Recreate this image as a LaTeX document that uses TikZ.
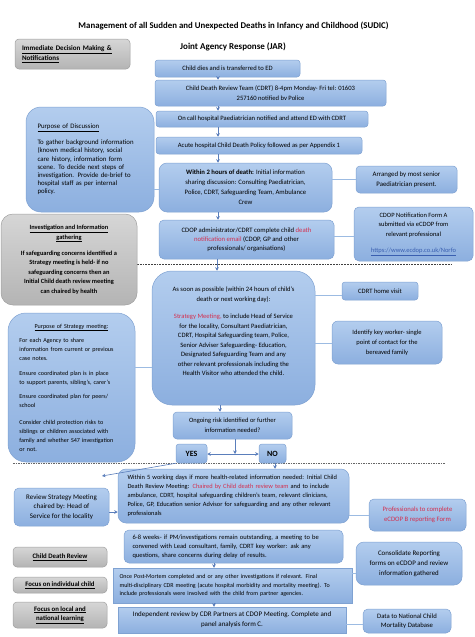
\documentclass[tikz,border=0pt]{standalone}
\usepackage{fontspec}
\setmainfont{Carlito}
\usetikzlibrary{arrows.meta,calc}
\definecolor{btop}{HTML}{B3CDEE}
\definecolor{bbot}{HTML}{8CAFDF}
\definecolor{bdr}{HTML}{7FA2D2}
\definecolor{gtop}{HTML}{D6D6D6}
\definecolor{gbot}{HTML}{B4B4B4}
\definecolor{gdr}{HTML}{A0A0A0}
\definecolor{lnk}{HTML}{9CBBE2}
\definecolor{arrc}{HTML}{5A7EBB}
\definecolor{redt}{HTML}{D42F4E}
\definecolor{urlc}{HTML}{3A5FB0}
\newcommand{\fz}[2]{\fontsize{#1}{#2}\selectfont}
\begin{document}
\begin{tikzpicture}[x=1pt,y=-1pt,
 bluebox/.style={draw=bdr, line width=0.5pt, top color=btop, bottom color=bbot, rounded corners=3pt, inner sep=0pt, align=center, text=black},
 graybox/.style={draw=gdr, line width=0.5pt, top color=gtop, bottom color=gbot, rounded corners=4pt, inner sep=0pt, align=center},
 sz/.style 2 args={minimum width=#1pt, minimum height=#2pt},
 conn/.style={draw=lnk, line width=1pt},
 arr/.style={draw=arrc, line width=0.6pt, -{Stealth[length=3.5pt,width=3.5pt]}},
 dashA/.style={draw=black!75, line width=0.5pt, dash pattern=on 1.8pt off 1pt},
 dashB/.style={draw=black!60, line width=0.5pt, dash pattern=on 1.5pt off 1pt},
]
\fill[white] (0,0) rectangle (474,637);
\useasboundingbox (0,0) rectangle (474,637);

% dashed separators
\coordinate (dA1) at (137,264);
\coordinate (dA2) at (451,264);
\coordinate (dB1) at (13,463);
\coordinate (dB2) at (445,463);
\draw[dashA] (dA1) -- (dA2);
\draw[dashB] (dB1) -- (dB2);

% titles
\node[font=\bfseries\fz{8.8}{11}] (title) at (233.5,26) {Management of all Sudden and Unexpected Deaths in Infancy and Childhood (SUDIC)};
\node[font=\bfseries\fz{9}{11}] (jar) at (233,47) {Joint Agency Response (JAR)};

% left grey headers
\node[graybox, sz={115}{30}, text width=101pt, align=left, font=\bfseries\fz{7}{10}] (imm) at (72.5,54) {\underline{Immediate Decision Making \&}\\\underline{Notifications}};

% main column
\node[bluebox, sz={145}{17}, font=\fz{6.6}{9}] (n2) at (227.5,68.5) {Child dies and is transferred to ED};
\node[bluebox, sz={231}{26}, font=\fz{6.6}{9.5}] (n3) at (270.5,93) {Child Death Review Team (CDRT) 8-4pm Monday- Fri tel: 01603\\257160 notified bv Police};
\node[bluebox, sz={212}{16}, font=\fz{6.6}{9}] (n4) at (262,119) {On call hospital Paediatrician notified and attend ED with CDRT};
\node[bluebox, sz={206}{17}, font=\fz{6.6}{9}] (n5) at (259,145.5) {Acute hospital Child Death Policy followed as per Appendix 1};
\node[bluebox, sz={173}{49}, rounded corners=8pt, font=\fz{6.7}{10}] (n6) at (245.5,187.5) {\textbf{Within 2 hours of death:} Initial information\\sharing discussion: Consulting Paediatrician,\\Police, CDRT, Safeguarding Team, Ambulance\\Crew};
\node[bluebox, sz={128}{105}, rounded corners=15pt, text width=105pt, align=left, font=\fz{6.8}{8.2}] (n7) at (90,159.5) {\underline{Purpose of Discussion}\\[8pt]To gather background information\\(known medical history, social\\care history, information form\\scene. To decide next steps of\\investigation. Provide de-brief to\\hospital staff as per internal\\policy.};
\node[bluebox, sz={101}{27}, rounded corners=4pt, font=\fz{6.8}{10}] (n8) at (406.5,179.5) {Arranged by most senior\\Paediatrician present.};

\node[graybox, sz={136}{91}, rounded corners=12pt, font=\bfseries\fz{6.4}{9.5}] (n9) at (69,259.5) {\underline{Investigation and Information}\\\underline{gathering}\\[6.5pt]If safeguarding concerns identified a\\Strategy meeting is held- if no\\safeguarding concerns then an\\Initial Child death review meeting\\can chaired by health};

\node[bluebox, sz={175}{39}, rounded corners=5pt, font=\fz{6.7}{9}] (n10) at (246.5,239.5) {CDOP administrator/CDRT complete child \textcolor{redt}{death}\\\textcolor{redt}{notification email} (CDOP, GP and other\\professionals/ organisations)};
\node[bluebox, sz={119}{54}, rounded corners=5pt, font=\fz{6.5}{9.7}] (n11) at (413.5,234) {CDOP Notification Form A\\submitted via eCDOP from\\relevant professional\\[6pt]\textcolor{urlc}{\underline{https://www.ecdop.co.uk/Norfo}}};

\node[bluebox, sz={163}{134}, rounded corners=20pt, font=\fz{6.6}{9.5}] (n12) at (233.5,338) {As soon as possible (within 24 hours of child’s\\death or next working day):\\[8pt]\textcolor{redt}{Strategy Meeting,} to include Head of Service\\for the locality, Consultant Paediatrician,\\CDRT, Hospital Safeguarding team, Police,\\Senior Adviser Safeguarding- Education,\\Designated Safeguarding Team and any\\other relevant professionals including the\\Health Visitor who attended the child.\\[4pt]};
\node[bluebox, sz={76}{18}, font=\fz{6.6}{9}] (n13) at (380,291) {CDRT home visit};
\node[bluebox, sz={110}{43}, rounded corners=6pt, font=\fz{6.5}{10}] (n14) at (387,342.5) {Identify key worker- single\\point of contact for the\\bereaved family};

\node[bluebox, sz={127}{149}, rounded corners=18pt, text width=104pt, align=left, font=\fz{6.1}{9}] (n15) at (71.5,387.5) {\makebox[104pt][c]{\underline{Purpose of Strategy meeting:}}\\[5pt]For each Agency to share\\information from current or previous\\case notes.\\[6pt]Ensure coordinated plan is in place\\to support parents, sibling’s, carer’s\\[5pt]Ensure coordinated plan for peers/\\school\\[8pt]Consider child protection risks to\\siblings or children associated with\\family and whether S47 investigation\\or not.};

\node[bluebox, sz={119}{27}, rounded corners=4pt, font=\fz{6.5}{9.5}] (n16) at (232.5,425.5) {Ongoing risk identified or further\\information needed?};
\node[bluebox, sz={31}{19}, font=\bfseries\fz{8}{9}] (yes) at (191.5,453.5) {YES};
\node[bluebox, sz={27}{19}, font=\bfseries\fz{8}{9}] (no) at (272.5,453.5) {NO};
\coordinate (mid) at (235,454);
\coordinate (yesend) at (102,476);

\node[bluebox, sz={231}{54}, rounded corners=8pt, text width=212pt, align=left, font=\fz{6.4}{9}] (n19) at (233.5,496) {\makebox[212pt][s]{Within 5 working days if more health-related information needed: Initial Child}\\\makebox[212pt][s]{Death Review Meeting: \textcolor{redt}{Chaired by Child death review team} and to include}\\\makebox[212pt][s]{ambulance, CDRT, hospital safeguarding children’s team, relevant clinicians,}\\\makebox[212pt][s]{Police, GP, Education senior Advisor for safeguarding and any other relevant}\\professionals};
\node[bluebox, sz={95}{38}, rounded corners=5pt, font=\fz{7}{9.3}] (n20) at (61.5,507) {Review Strategy Meeting\\chaired by: Head of\\Service for the locality};
\node[bluebox, sz={97}{32}, rounded corners=5pt, font=\fz{6.7}{10}, text=redt] (n21) at (417.5,515) {Professionals to complete\\eCDOP B reporting Form};

\node[bluebox, sz={219}{33}, rounded corners=5pt, text width=202pt, align=left, font=\fz{6.5}{9}] (n22) at (233.5,546.5) {\makebox[202pt][s]{6-8 weeks- if PM/investigations remain outstanding, a meeting to be}\\\makebox[202pt][s]{convened with Lead consultant, family, CDRT key worker: ask any}\\questions, share concerns during delay of results.};
\node[bluebox, sz={106}{43}, rounded corners=8pt, font=\fz{6.9}{10}] (n23) at (409,563.5) {Consolidate Reporting\\forms on eCDOP and review\\information gathered};

\node[graybox, sz={94}{20}, font=\bfseries\fz{6.8}{9}] (n24) at (60,557) {\underline{Child Death Review}};
\node[graybox, sz={94}{16}, font=\bfseries\fz{6.8}{9}] (n25) at (60,585) {\underline{Focus on individual child}};
\node[graybox, sz={94}{26}, font=\bfseries\fz{6.8}{9.5}] (n26) at (60,615) {\underline{Focus on local and}\\\underline{national learning}};

\node[bluebox, sz={239}{35}, rounded corners=0pt, text width=226pt, align=left, font=\fz{6}{8.5}] (n27) at (232.5,585.5) {\makebox[226pt][s]{Once Post-Mortem completed and or any other investigations if relevant. Final}\\\makebox[226pt][s]{multi-disciplinary CDR meeting (acute hospital morbidity and mortality meeting). To}\\\makebox[226pt][s]{include professionals were involved with the child from partner agencies.}};
\node[bluebox, sz={228}{26}, rounded corners=0pt, font=\fz{7}{10}] (n28) at (232,620) {Independent review by CDR Partners at CDOP Meeting. Complete and\\panel analysis form C.};
\node[bluebox, sz={88}{24}, rounded corners=5pt, font=\fz{6.7}{9.5}] (n29) at (407,621) {Data to National Child\\Mortality Database};

% arrows main column
\draw[arr] (218,0 |- n2.south) -- (218,0 |- n3.north);
\draw[arr] (218,0 |- n3.south) -- (218,0 |- n4.north);
\draw[arr] (218,0 |- n4.south) -- (218,0 |- n5.north);
\draw[arr] (218,0 |- n5.south) -- (218,0 |- n6.north);
\draw[arr] (218,0 |- n6.south) -- (218,0 |- n10.north);
\draw[arr] (217,0 |- n10.south) -- (217,0 |- n12.north);
\draw[arr] (220,0 |- n12.south) -- (220,0 |- n16.north);
\draw[arr] (235,0 |- n16.south) -- (mid);
\draw[arr] (mid) -- (yes.east |- mid);
\draw[arr] (mid) -- (no.west |- mid);
\draw[arr] (yes.south west) -- (yesend);
\draw[arr] (275,0 |- no.south) -- (275,0 |- n19.north);
\draw[arr] (n20.east |- 0,512) -- (n19.west |- 0,512);
\draw[arr] (214,0 |- n22.south) -- (214,0 |- n27.north);
\draw[arr] (214,0 |- n27.south) -- (214,0 |- n28.north);

% side connectors
\draw[conn] (n7.east |- 0,189) -- (n6.west |- 0,189);
\draw[conn] (n6.east |- 0,179) -- (n8.west |- 0,179);
\draw[conn] (n10.east |- 0,236) -- (n11.west |- 0,236);
\draw[conn] (n12.east |- 0,295) -- (n13.west |- 0,295);
\draw[conn] (n12.east |- 0,343) -- (n14.west |- 0,343);
\draw[conn] (n15.east |- 0,367) -- (n12.west |- 0,367);
\draw[conn] (n19.east |- n21.west) -- (n21.west);
\draw[conn] (n27.east |- 0,573) -- (n23.west |- 0,573);
\draw[conn] (n28.east |- 0,624) -- (n29.west |- 0,624);
\end{tikzpicture}
\end{document}
